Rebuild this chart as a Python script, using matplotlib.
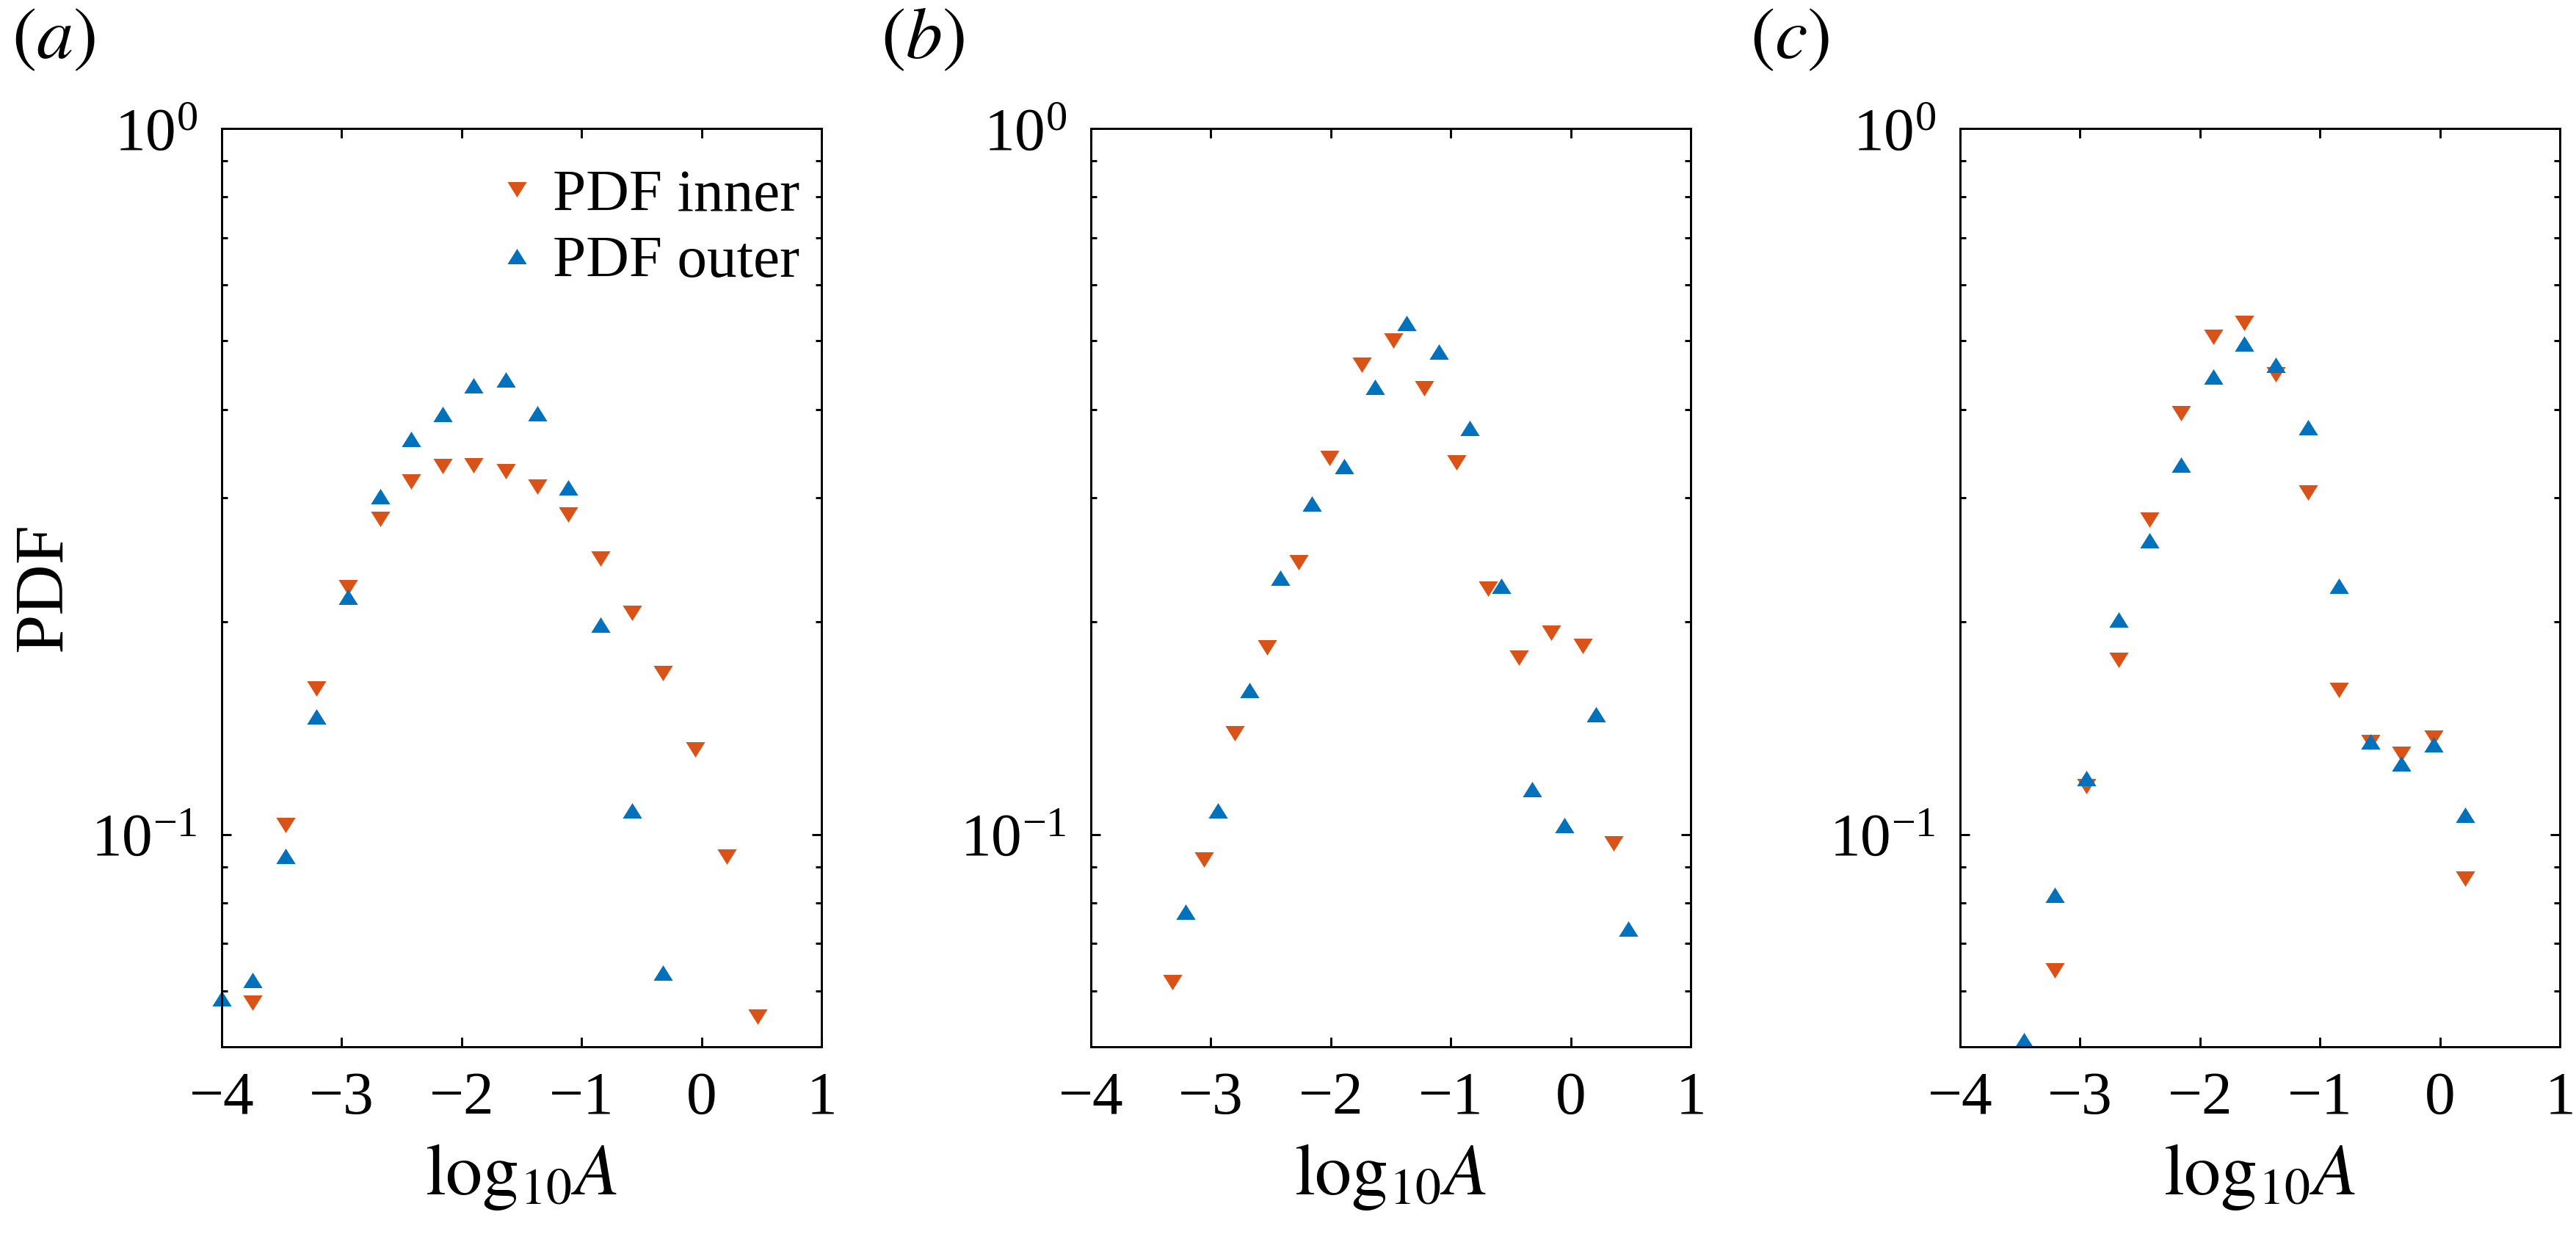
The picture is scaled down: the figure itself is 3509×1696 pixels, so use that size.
import matplotlib
matplotlib.use("Agg")
import matplotlib.pyplot as plt
from matplotlib.ticker import NullFormatter, FixedLocator

plt.rcParams['font.family'] = ['Liberation Serif', 'DejaVu Serif']
plt.rcParams['mathtext.fontset'] = 'stix'

# one pair of arrays per panel
outer_x_a = [-4.00, -3.74, -3.47, -3.21, -2.95, -2.68, -2.42, -2.16, -1.90, -1.63, -1.37, -1.11, -0.84, -0.58, -0.32]
outer_y_a = [0.0585, 0.0621, 0.0933, 0.147, 0.217, 0.301, 0.363, 0.394, 0.432, 0.441, 0.395, 0.310, 0.198, 0.108, 0.0637]
inner_x_a = [-3.74, -3.47, -3.21, -2.95, -2.68, -2.42, -2.16, -1.90, -1.63, -1.37, -1.11, -0.84, -0.58, -0.32, -0.05, 0.21, 0.47]
inner_y_a = [0.0577, 0.103, 0.161, 0.224, 0.280, 0.316, 0.332, 0.333, 0.327, 0.311, 0.284, 0.246, 0.206, 0.169, 0.132, 0.093, 0.0551]

outer_x_b = [-3.21, -2.94, -2.68, -2.42, -2.16, -1.89, -1.63, -1.37, -1.10, -0.84, -0.58, -0.32, -0.05, 0.21, 0.48]
outer_y_b = [0.0776, 0.108, 0.160, 0.231, 0.294, 0.332, 0.430, 0.530, 0.483, 0.376, 0.225, 0.116, 0.103, 0.148, 0.0735]
inner_x_b = [-3.32, -3.06, -2.80, -2.53, -2.27, -2.01, -1.74, -1.48, -1.22, -0.95, -0.69, -0.43, -0.16, 0.10, 0.36]
inner_y_b = [0.0617, 0.092, 0.139, 0.184, 0.243, 0.341, 0.463, 0.500, 0.428, 0.336, 0.223, 0.178, 0.193, 0.185, 0.097]

outer_x_c = [-3.47, -3.21, -2.95, -2.68, -2.42, -2.16, -1.89, -1.63, -1.37, -1.10, -0.84, -0.58, -0.32, -0.05, 0.21]
outer_y_c = [0.0511, 0.082, 0.120, 0.2015, 0.261, 0.334, 0.445, 0.496, 0.463, 0.377, 0.225, 0.1355, 0.126, 0.134, 0.1066]
inner_x_c = [-3.21, -2.95, -2.68, -2.42, -2.16, -1.89, -1.63, -1.37, -1.10, -0.84, -0.58, -0.32, -0.05, 0.21]
inner_y_c = [0.0642, 0.117, 0.1765, 0.279, 0.395, 0.507, 0.530, 0.448, 0.305, 0.160, 0.135, 0.130, 0.137, 0.0865]

panel_labels = ['$(a)$', '$(b)$', '$(c)$']
x_ticks = [-4, -3, -2, -1, 0, 1]
legend_labels = ['PDF inner', 'PDF outer']

inner_color = '#D95319'
outer_color = '#0072BD'

# flattened triangles, like the matlab markers
tri_up = [(0, 0.8), (-1, -0.8), (1, -0.8), (0, 0.8)]
tri_down = [(0, -0.8), (-1, 0.8), (1, 0.8), (0, -0.8)]

W, H = 3509, 1696
fig = plt.figure(figsize=(W / 300, H / 300), dpi=300)

panels = [
    (inner_x_a, inner_y_a, outer_x_a, outer_y_a),
    (inner_x_b, inner_y_b, outer_x_b, outer_y_b),
    (inner_x_c, inner_y_c, outer_x_c, outer_y_c),
]
lefts = [302, 1486, 2670]
ax_w, ax_top, ax_bot = 817, 175, 1426

for i, (ix, iy, ox, oy) in enumerate(panels):
    ax = fig.add_axes([lefts[i] / W, 1 - ax_bot / H, ax_w / W, (ax_bot - ax_top) / H])
    ax.plot(ix, iy, linestyle='none', marker=tri_down, markersize=6.3,
            color=inner_color, markeredgewidth=0, clip_on=False, label=legend_labels[0])
    ax.plot(ox, oy, linestyle='none', marker=tri_up, markersize=6.3,
            color=outer_color, markeredgewidth=0, clip_on=False, label=legend_labels[1])
    ax.set_yscale('log')
    ax.set_xlim(-4, 1)
    ax.set_ylim(0.05, 1)
    ax.xaxis.set_major_locator(FixedLocator(x_ticks))
    ax.yaxis.set_minor_formatter(NullFormatter())
    ax.tick_params(which='both', direction='in', top=True, right=True, width=0.7, labelsize=20)
    ax.tick_params(which='major', length=3.1)
    ax.tick_params(which='minor', length=1.9)
    ax.tick_params(axis='x', pad=8)
    ax.tick_params(axis='y', pad=8)
    for s in ax.spines.values():
        s.set_linewidth(0.7)
    ax.set_xlabel(r'$\log_{10}\!A$', fontsize=24, labelpad=5)
    if i == 0:
        leg = ax.legend(loc='upper right', frameon=False, fontsize=19.5, numpoints=1,
                        handlelength=0.6, handletextpad=0.3, labelspacing=0.2,
                        borderpad=0, borderaxespad=0, bbox_to_anchor=(0.963, 0.956))
    fig.text((16 + 1184 * i) / W, 1 - 10 / H, panel_labels[i], fontsize=24,
             ha='left', va='top')

fig.text(61 / W, 1 - 800 / H, 'PDF', fontsize=23, rotation=90, ha='center', va='center')

plt.savefig('out.png', dpi=300)
plt.close()
